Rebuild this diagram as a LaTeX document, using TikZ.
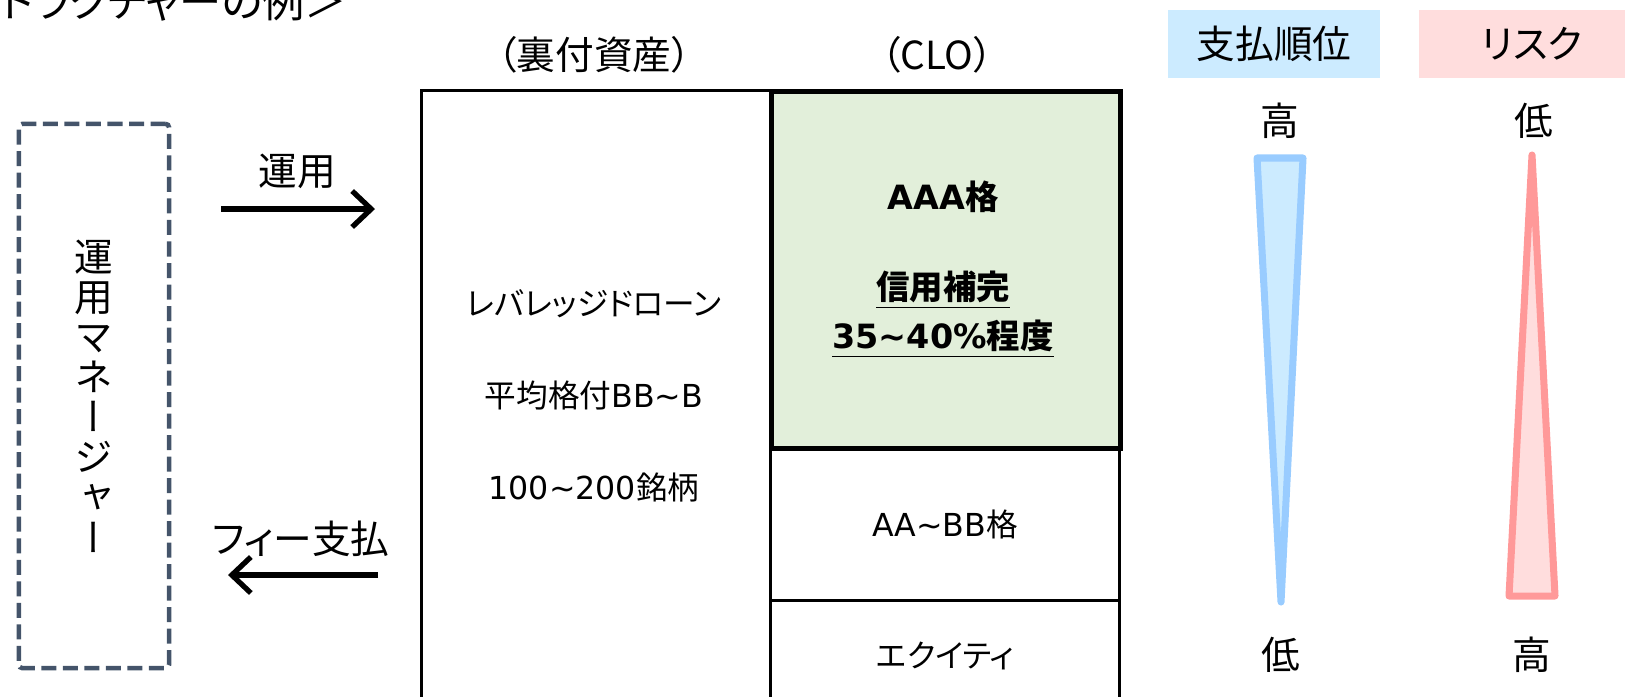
\documentclass[tikz,border=0pt]{standalone}
\usepackage{fontspec}
\setmainfont[RawFeature=+palt]{Noto Sans CJK JP}
\newfontfamily\vjp[RawFeature=+vert]{Noto Sans CJK JP}
\newfontfamily\lat{DejaVu Sans}
\usetikzlibrary{arrows.meta,positioning}
\definecolor{mgrgray}{HTML}{44546A}
\definecolor{aaagreen}{HTML}{E2EFDA}
\definecolor{payfill}{HTML}{CCEBFF}
\definecolor{payline}{HTML}{99CCFF}
\definecolor{riskfill}{HTML}{FFDDDD}
\definecolor{riskline}{HTML}{FF9999}

\begin{document}
\begin{tikzpicture}[x=0.01cm, y=-0.01cm,
    every node/.style={inner sep=0pt},
    head/.style={font=\fontsize{11}{13}\selectfont},
    cell/.style={font=\fontsize{9}{11}\selectfont},
    senior/.style={font=\bfseries\fontsize{9.5}{11}\selectfont},
    tranche/.style={draw, line width=0.9pt, anchor=north west, minimum width=3.49cm},
    flow/.style={->, >={Straight Barb[length=1.9mm,width=3.6mm,line width=1.5pt]}, line width=1.5pt}]
    \useasboundingbox (0,0) rectangle (1625,696);
    \clip (0,0) rectangle (1625,696);

    % title, cut off at the top edge
    \node[anchor=base west, font=\fontsize{12}{14}\selectfont] (title) at (0,17) {トラクチャーの例＞};

    % manager
    \node[draw=mgrgray, line width=1.3pt, dash pattern=on 0.15cm off 0.065cm, rounded corners=1pt,
          minimum width=1.5cm, minimum height=5.44cm] (mgr) at (94,396) {};
    \node[font=\vjp\fontsize{11}{11.4}\selectfont, align=center] (mgrtext) at (mgr.center)
        {運\\用\\マ\\ネ\\ー\\ジ\\ャ\\ー};

    \coordinate (run-a) at (221,209);
    \coordinate (run-b) at (375,209);
    \coordinate (fee-a) at (378,575);
    \coordinate (fee-b) at (228,575);
    \draw[flow] (run-a) -- (run-b);
    \draw[flow] (fee-a) -- (fee-b);
    \node[head] (run) at (297,171) {運用};
    \node[head] (fee) at (301,539) {フィー支払};

    % collateral and CLO
    \node[head] (collhead) at (594,55) {（裏付資産）};
    \node[head] (clohead) at (937,55) {（CLO）};
    \node[tranche, minimum height=6.2cm] (coll) at (420,89) {};
    \node[cell] (lev) at (594,304) {レバレッジドローン};
    \node[cell] (rating) at (594,395) {平均格付{\lat BB\textasciitilde B}};
    \node[cell] (count) at (594,487) {{\lat 100\textasciitilde 200}銘柄};

    \node[tranche, minimum height=1.53cm, cell] (mezz) at (769,446) {{\lat AA\textasciitilde BB}格};
    \node[tranche, minimum height=1.1cm, cell] (equity) at (769,599) {エクイティ};
    \node[tranche, minimum height=3.57cm, fill=aaagreen, line width=1.4pt] (aaa) at (769,89) {};
    \node[senior] (aaatext) at (943,197) {{\lat AAA}格};
    \node[senior] (ce) at (943,290) {\underline{信用補完}};
    \node[senior] (ceval) at (943,339) {\underline{{\lat 35\textasciitilde 40\%}程度}};

    % priority and risk
    \node[head, fill=payfill, minimum width=2.11cm, minimum height=0.67cm] (pay) at (1274,44) {支払順位};
    \node[head, fill=riskfill, minimum width=2.25cm, minimum height=0.67cm] (risk) at (1532,44) {リスク};
    \node[head] (payhi) at (1280,121) {高};
    \node[head] (risklo) at (1534,121) {低};
    \node[head] (paylo) at (1281,655) {低};
    \node[head] (riskhi) at (1532,655) {高};
    \draw[payline, fill=payfill, line width=2pt, line join=round] (1257,158) -- (1303,158) -- (1281,602) -- cycle;
    \draw[riskline, fill=riskfill, line width=2pt, line join=round] (1532,155) -- (1555,596) -- (1509,596) -- cycle;
\end{tikzpicture}
\end{document}
